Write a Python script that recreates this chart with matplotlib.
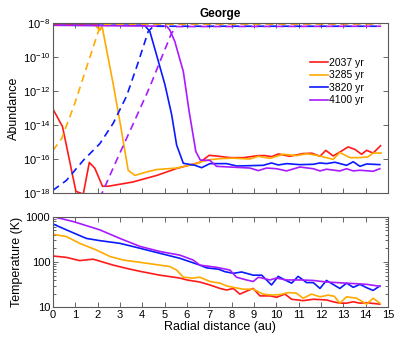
import numpy as np
import matplotlib
matplotlib.use("Agg")
import matplotlib.pyplot as plt
from matplotlib.ticker import LogLocator, NullLocator, FixedLocator

plt.rcParams['font.family'] = ['Liberation Sans', 'DejaVu Sans']
plt.rcParams['mathtext.fontset'] = 'custom'
plt.rcParams['mathtext.rm'] = 'Liberation Sans'

labels = ['2037 yr', '3285 yr', '3820 yr', '4100 yr']
colors = ['#ff1a1a', '#ffaa00', '#0a1aff', '#a81aff']

# gas-phase abundance (solid), log10
r_gas_red = [0, 0.43, 1.03, 1.36, 1.63, 1.88, 2.22, 2.48, 3.58, 4.66, 5.55, 6.58, 7.0, 7.5, 7.93, 8.53, 9.2,
             9.5, 9.8, 10.1, 10.6, 11.2, 11.6, 11.96, 12.22, 12.55, 12.85, 13.22, 13.52, 13.82, 14.05, 14.34, 14.67]
gas_red = [-13.06, -14.1, -17.9, -18.06, -16.2, -16.55, -17.6, -17.6, -17.35, -16.96, -16.55, -16.2, -15.78, -15.85,
           -15.92, -15.92, -15.8, -15.8, -15.86, -15.7, -15.84, -15.68, -15.66, -15.84, -15.49, -15.82, -15.59,
           -15.29, -15.43, -15.72, -15.49, -15.65, -15.22]
r_gas_orange = [0, 1.9, 2.1, 2.2, 2.7, 3.0, 3.37, 3.67, 4.2, 4.64, 5.54, 6.43, 6.58, 7.03, 7.48, 8.08, 8.82, 9.2,
                9.72, 10.31, 10.91, 11.36, 11.81, 12.55, 12.85, 13.3, 13.7, 14.1, 14.34, 14.7]
gas_orange = [-8.14, -8.14, -8.45, -8.2, -11.6, -13.8, -16.66, -16.96, -16.76, -16.62, -16.53, -16.27, -16.18, -16.04,
              -15.98, -15.95, -16.0, -15.84, -15.96, -15.72, -15.8, -15.69, -15.78, -16.02, -15.62, -15.92, -15.92,
              -15.88, -15.65, -15.65]
r_gas_blue = [0, 4.1, 4.34, 4.64, 5.02, 5.32, 5.54, 5.84, 6.36, 6.66, 7.03, 7.78, 8.23, 8.82, 9.42, 9.79, 10.09,
              10.46, 11.06, 11.66, 11.96, 12.25, 12.63, 13.15, 13.45, 13.75, 14.05, 14.64]
gas_blue = [-8.14, -8.14, -8.5, -9.88, -11.65, -13.41, -15.18, -16.25, -16.37, -16.51, -16.27, -16.27, -16.41,
            -16.39, -16.37, -16.23, -16.35, -16.27, -16.33, -16.31, -16.23, -16.27, -16.19, -16.37, -16.16, -16.43,
            -16.29, -16.33]
r_gas_purple = [0, 5.1, 5.24, 5.46, 5.84, 6.1, 6.4, 6.6, 7.03, 7.33, 7.93, 8.82, 9.2, 9.57, 10.02, 10.46, 11.06,
                11.66, 11.96, 12.25, 12.85, 13.15, 13.45, 13.75, 14.34, 14.64]
gas_purple = [-8.14, -8.2, -8.43, -9.1, -10.86, -13.2, -15.56, -16.06, -16.08, -16.43, -16.47, -16.53, -16.68,
              -16.53, -16.57, -16.7, -16.47, -16.57, -16.7, -16.6, -16.7, -16.57, -16.7, -16.66, -16.72, -16.57]

# ice abundance (dashed), log10
r_ice_red = [0, 14.3, 14.7]
ice_red = [-8.05, -8.05, -7.92]
r_ice_orange = [0, 0.39, 0.98, 1.51, 2.1, 2.3, 14.7]
ice_orange = [-15.5, -14.8, -12.74, -10.6, -8.24, -8.08, -8.05]
r_ice_blue = [0, 0.6, 1.36, 2.1, 2.7, 3.3, 3.8, 4.27, 4.5, 14.7]
ice_blue = [-17.84, -17.26, -16.08, -15.1, -13.9, -12.3, -10.4, -8.5, -8.2, -8.2]
r_ice_purple = [2.1, 2.85, 3.6, 4.34, 4.94, 5.31, 5.54, 14.7]
ice_purple = [-18.3, -16.08, -13.92, -11.76, -9.8, -8.62, -8.22, -8.2]

# temperature (K)
r_T_red = [0, 0.6, 1.2, 1.8, 2.7, 3.3, 3.9, 4.79, 5.69, 6.0, 6.58, 7.03, 7.48, 7.78, 8.08, 8.37, 8.75, 8.97, 9.27,
           9.72, 10.02, 10.39, 10.69, 11.21, 11.66, 12.25, 12.55, 12.85, 13.15, 13.45, 13.75, 14.05, 14.64]
T_red = [135, 126, 107, 115, 85, 72, 62, 51, 44, 40, 36, 31, 26, 24, 26, 19.5, 23.5, 26, 17.8, 17.8, 16.6, 19.5,
         15, 14, 15, 14.5, 13.2, 12.3, 12.3, 13.2, 12.3, 12.6, 11.7]
r_T_orange = [0, 0.6, 1.2, 1.96, 2.55, 3.15, 3.9, 4.79, 5.24, 5.54, 5.84, 6.28, 6.58, 7.03, 7.48, 7.78, 8.08, 8.52,
              8.97, 9.42, 9.79, 10.15, 10.54, 10.9, 11.21, 11.58, 11.96, 12.33, 12.6, 12.85, 13.15, 13.6, 14.05,
              14.34, 14.64]
T_orange = [407, 363, 257, 182, 132, 110, 98, 85, 79, 66, 46, 44, 46, 37, 34, 29.5, 27.5, 25, 25, 19.5, 18.6, 19,
            21, 20.5, 15.8, 19.5, 17, 18.5, 17.5, 12.3, 17, 15.8, 11.7, 15.8, 12.3]
r_T_blue = [0, 0.6, 1.5, 2.1, 3.0, 3.9, 4.79, 5.69, 6.58, 6.88, 7.42, 7.7, 8.08, 8.45, 8.97, 9.35, 9.79, 10.09,
            10.39, 10.69, 10.98, 11.36, 11.66, 11.96, 12.25, 12.85, 13.15, 13.45, 13.75, 14.05, 14.34, 14.64]
T_blue = [690, 510, 330, 295, 257, 200, 155, 120, 85, 74, 69, 61, 56, 60, 51, 51, 31, 48, 40, 34, 48, 35, 35, 26,
          39, 26, 34, 27.5, 32, 27, 23.5, 29.5]
r_T_purple = [0, 0.9, 2.1, 3.0, 3.9, 4.79, 5.69, 6.28, 6.58, 7.33, 7.93, 8.22, 8.67, 8.97, 9.2, 9.72, 10.0, 10.46,
              11.06, 11.66, 12.25, 13.15, 14.05, 14.64]
T_purple = [1000, 780, 510, 330, 220, 170, 141, 110, 85, 76, 66, 46, 40, 37, 46, 40, 44, 40, 40, 39, 36, 34, 32, 29]

gas = [(r_gas_red, gas_red), (r_gas_orange, gas_orange), (r_gas_blue, gas_blue), (r_gas_purple, gas_purple)]
ice = [(r_ice_red, ice_red), (r_ice_orange, ice_orange), (r_ice_blue, ice_blue), (r_ice_purple, ice_purple)]
temp = [(r_T_red, T_red), (r_T_orange, T_orange), (r_T_blue, T_blue), (r_T_purple, T_purple)]

fig = plt.figure(figsize=(4.07, 3.46), dpi=100)
ax1 = fig.add_axes([0.130, 0.442, 0.823, 0.492])
ax2 = fig.add_axes([0.130, 0.112, 0.823, 0.262])

lw = 1.2
for (r, v), c, lab in zip(gas, colors, labels):
    ax1.plot(r, 10 ** np.array(v), color=c, lw=lw, label=lab)
for (r, v), c in zip(ice, colors):
    ax1.plot(r, 10 ** np.array(v), color=c, lw=lw, ls=(0, (4.5, 3)))
for (r, v), c in zip(temp, colors):
    ax2.plot(r, v, color=c, lw=lw)

ax1.set_yscale('log')
ax1.set_ylim(1e-18, 1e-8)
ax1.set_xlim(0, 15)
ax1.yaxis.set_major_locator(FixedLocator([1e-18, 1e-16, 1e-14, 1e-12, 1e-10, 1e-8]))
ax1.yaxis.set_minor_locator(NullLocator())
ax1.xaxis.set_major_locator(FixedLocator(range(0, 16)))
ax1.set_xticklabels([])
ax1.set_ylabel('Abundance', fontsize=9, labelpad=2)
ax1.set_title('George', fontsize=8.5, fontweight='bold', pad=4)
ax1.legend(loc='upper left', bbox_to_anchor=(0.755, 0.82), frameon=False, fontsize=7.5,
           handlelength=1.7, handletextpad=0.15, labelspacing=0.25, borderaxespad=0)

ax2.set_yscale('log')
ax2.set_ylim(10, 1000)
ax2.set_xlim(0, 15)
ax2.xaxis.set_major_locator(FixedLocator(range(0, 16)))
ax2.yaxis.set_major_locator(LogLocator(base=10))
ax2.yaxis.set_minor_locator(LogLocator(base=10, subs=np.arange(2, 10)))
ax2.yaxis.set_major_formatter(plt.FuncFormatter(lambda v, p: '%d' % v))
ax2.set_xlabel('Radial distance (au)', fontsize=9, labelpad=1)
ax2.set_ylabel('Temperature (K)', fontsize=9, labelpad=2)

for ax in (ax1, ax2):
    ax.tick_params(which='both', direction='in', top=True, right=True, labelsize=8, pad=2,
                   color='0.3', width=0.6)
    ax.tick_params(which='major', length=3.5)
    ax.tick_params(which='minor', length=2)
    for s in ax.spines.values():
        s.set_color('0.35')
        s.set_linewidth(0.8)

fig.savefig('out.png', dpi=100)
